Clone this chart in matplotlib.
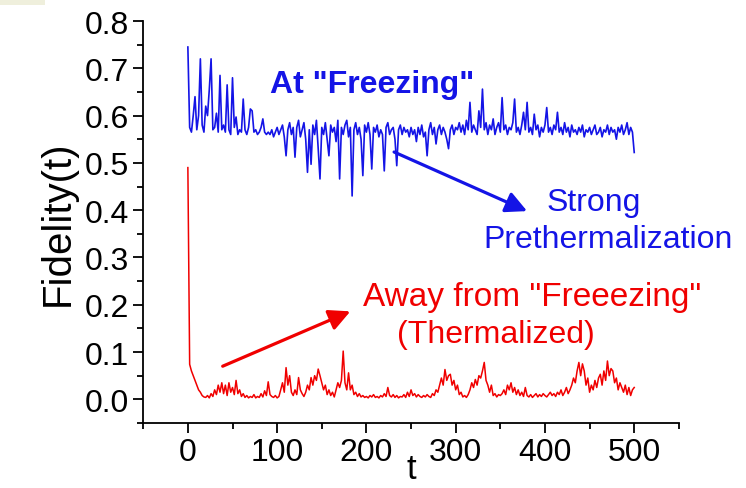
import matplotlib
matplotlib.use("Agg")
import matplotlib.pyplot as plt
import numpy as np
from matplotlib.patches import Rectangle
from matplotlib.ticker import MultipleLocator

plt.rcParams["font.family"] = ["Liberation Sans", "DejaVu Sans"]

# sampling grid of the two traces (every 2 time units)
t = np.arange(0, 501, 2)

# fidelity at the "freezing" point
fid_freeze = [
    0.745, 0.575, 0.565, 0.60, 0.64, 0.57, 0.60, 0.72, 0.58, 0.565,      # t 0-18
    0.62, 0.60, 0.655, 0.72, 0.57, 0.575, 0.605, 0.565, 0.685, 0.57,     # 20-38
    0.58, 0.565, 0.665, 0.57, 0.56, 0.68, 0.575, 0.597, 0.56, 0.57,      # 40-58
    0.565, 0.635, 0.57, 0.56, 0.575, 0.614, 0.61, 0.565, 0.57, 0.56,     # 60-78
    0.565, 0.575, 0.593, 0.565, 0.56, 0.565, 0.56, 0.57, 0.555, 0.565,   # 80-98
    0.575, 0.56, 0.57, 0.58, 0.555, 0.515, 0.57, 0.585, 0.56, 0.575,     # 100-118
    0.512, 0.575, 0.59, 0.555, 0.57, 0.585, 0.55, 0.48, 0.57, 0.497,     # 120-138
    0.58, 0.56, 0.59, 0.53, 0.466, 0.575, 0.56, 0.585, 0.55, 0.515,      # 140-158
    0.58, 0.565, 0.575, 0.545, 0.59, 0.466, 0.575, 0.56, 0.58, 0.59,     # 160-178
    0.555, 0.575, 0.43, 0.57, 0.585, 0.56, 0.575, 0.55, 0.473, 0.58,     # 180-198
    0.565, 0.585, 0.56, 0.487, 0.575, 0.565, 0.58, 0.555, 0.57, 0.56,    # 200-218
    0.483, 0.575, 0.585, 0.56, 0.57, 0.575, 0.55, 0.494, 0.57, 0.58,     # 220-238
    0.56, 0.575, 0.565, 0.57, 0.555, 0.575, 0.56, 0.57, 0.545, 0.575,    # 240-258
    0.56, 0.58, 0.555, 0.565, 0.515, 0.57, 0.585, 0.56, 0.575, 0.54,     # 260-278
    0.57, 0.58, 0.56, 0.575, 0.565, 0.55, 0.53, 0.57, 0.58, 0.56,        # 280-298
    0.575, 0.57, 0.585, 0.565, 0.58, 0.56, 0.59, 0.57, 0.628, 0.565,     # 300-318
    0.58, 0.57, 0.56, 0.61, 0.575, 0.656, 0.57, 0.585, 0.56, 0.58,       # 320-338
    0.57, 0.593, 0.56, 0.575, 0.585, 0.565, 0.638, 0.57, 0.58, 0.56,     # 340-358
    0.575, 0.57, 0.585, 0.635, 0.565, 0.575, 0.56, 0.58, 0.607, 0.57,    # 360-378
    0.628, 0.565, 0.575, 0.56, 0.603, 0.57, 0.58, 0.555, 0.575, 0.565,   # 380-398
    0.58, 0.617, 0.565, 0.575, 0.56, 0.58, 0.57, 0.607, 0.565, 0.575,    # 400-418
    0.56, 0.585, 0.565, 0.575, 0.555, 0.58, 0.565, 0.57, 0.56, 0.575,    # 420-438
    0.565, 0.58, 0.555, 0.57, 0.565, 0.575, 0.56, 0.57, 0.58, 0.56,      # 440-458
    0.565, 0.575, 0.555, 0.57, 0.565, 0.58, 0.56, 0.575, 0.565, 0.57,    # 460-478
    0.55, 0.575, 0.565, 0.58, 0.56, 0.57, 0.585, 0.56, 0.575, 0.565,     # 480-498
    0.522,                                                               # 500
]

# fidelity away from freezing (thermalized)
fid_thermal = [
    0.49, 0.074, 0.06, 0.05, 0.04, 0.03, 0.02, 0.015, 0.008, 0.005,
    0.004, 0.008, 0.003, 0.012, 0.006, 0.02, 0.01, 0.03, 0.015, 0.035,
    0.012, 0.03, 0.008, 0.035, 0.015, 0.025, 0.01, 0.04, 0.012, 0.02,
    0.006, 0.012, 0.004, 0.008, 0.003, 0.006, 0.004, 0.01, 0.003, 0.006,
    0.004, 0.012, 0.005, 0.018, 0.008, 0.037, 0.01, 0.006, 0.004, 0.008,
    0.003, 0.006, 0.02, 0.035, 0.015, 0.067, 0.03, 0.05, 0.015, 0.008,
    0.02, 0.01, 0.046, 0.02, 0.012, 0.006, 0.015, 0.03, 0.02, 0.046,
    0.03, 0.05, 0.04, 0.064, 0.05, 0.035, 0.02, 0.03, 0.01, 0.02,
    0.008, 0.015, 0.005, 0.02, 0.035, 0.025, 0.04, 0.102, 0.035, 0.02,
    0.056, 0.02, 0.03, 0.01, 0.015, 0.006, 0.012, 0.005, 0.008, 0.004,
    0.006, 0.003, 0.008, 0.005, 0.01, 0.004, 0.006, 0.003, 0.008, 0.005,
    0.012, 0.006, 0.025, 0.008, 0.005, 0.01, 0.004, 0.008, 0.003, 0.006,
    0.005, 0.01, 0.004, 0.015, 0.006, 0.02, 0.008, 0.012, 0.005, 0.01,
    0.006, 0.004, 0.008, 0.005, 0.01, 0.006, 0.004, 0.012, 0.008, 0.02,
    0.015, 0.03, 0.045, 0.03, 0.063, 0.04, 0.05, 0.053, 0.03, 0.04,
    0.02, 0.03, 0.01, 0.015, 0.005, 0.008, 0.004, 0.01, 0.02, 0.035,
    0.025, 0.042, 0.03, 0.05, 0.045, 0.06, 0.078, 0.04, 0.03, 0.015,
    0.03, 0.008, 0.012, 0.005, 0.01, 0.008, 0.012, 0.02, 0.01, 0.03,
    0.02, 0.035, 0.015, 0.025, 0.01, 0.02, 0.008, 0.015, 0.006, 0.025,
    0.008, 0.005, 0.01, 0.004, 0.008, 0.012, 0.005, 0.01, 0.006, 0.012,
    0.008, 0.005, 0.01, 0.015, 0.008, 0.012, 0.006, 0.015, 0.01, 0.02,
    0.008, 0.015, 0.025, 0.012, 0.02, 0.03, 0.045, 0.035, 0.06, 0.078,
    0.05, 0.075, 0.06, 0.03, 0.045, 0.015, 0.03, 0.02, 0.04, 0.025,
    0.045, 0.053, 0.03, 0.06, 0.04, 0.081, 0.05, 0.065, 0.06, 0.035,
    0.045, 0.02, 0.035, 0.025, 0.015, 0.03, 0.01, 0.025, 0.008, 0.02,
    0.025,
]

BLUE = "#1414e6"
RED = "#f00000"

fig = plt.figure(figsize=(7.46, 4.89), dpi=100)
ax = fig.add_axes([0.192, 0.133, 0.718, 0.822])

# small beige patch in the top-left corner of the original image
fig.patches.append(Rectangle((0, 0.988), 0.06, 0.012, transform=fig.transFigure,
                             facecolor="#efefdc", edgecolor="none"))

ax.plot(t, fid_freeze, color=BLUE, lw=1.2)
ax.plot(t, fid_thermal, color=RED, lw=1.1)

ax.set_xlim(-50, 550)
ax.set_ylim(-0.05, 0.8)
ax.xaxis.set_major_locator(MultipleLocator(100))
ax.xaxis.set_minor_locator(MultipleLocator(50))
ax.yaxis.set_major_locator(MultipleLocator(0.1))
ax.yaxis.set_minor_locator(MultipleLocator(0.05))

for s in ["top", "right"]:
    ax.spines[s].set_visible(False)
for s in ["left", "bottom"]:
    ax.spines[s].set_linewidth(1.3)
ax.tick_params(which="major", direction="out", length=7, width=1.3, labelsize=23, pad=3)
ax.tick_params(which="minor", direction="out", length=4, width=1.3)
ax.set_yticks(np.arange(0, 0.81, 0.1))
ax.set_yticklabels([f"{v:.1f}" for v in np.arange(0, 0.81, 0.1)])

ax.set_ylabel("Fidelity(t)", fontsize=29, labelpad=6)
ax.set_xlabel("t", fontsize=25, labelpad=-11)

# annotations
ax.text(206, 0.667, 'At "Freezing"', color=BLUE, fontsize=23, fontweight="bold",
        ha="center", va="center")
ax.text(455, 0.417, "Strong", color=BLUE, fontsize=23, ha="center", va="center")
ax.text(471, 0.339, "Prethermalization", color=BLUE, fontsize=23,
        ha="center", va="center")
ax.annotate("", xy=(380, 0.398), xytext=(231, 0.523),
            arrowprops=dict(arrowstyle="-|>", color=BLUE, lw=2.3,
                            mutation_scale=32, shrinkA=0, shrinkB=0))

ax.text(386, 0.218, 'Away from "Freeezing"', color=RED, fontsize=24,
        ha="center", va="center")
ax.text(345, 0.138, "(Thermalized)", color=RED, fontsize=23,
        ha="center", va="center")
ax.annotate("", xy=(182, 0.186), xytext=(39, 0.07),
            arrowprops=dict(arrowstyle="-|>", color=RED, lw=2.3,
                            mutation_scale=32, shrinkA=0, shrinkB=0))

fig.savefig("out.png", dpi=100)
